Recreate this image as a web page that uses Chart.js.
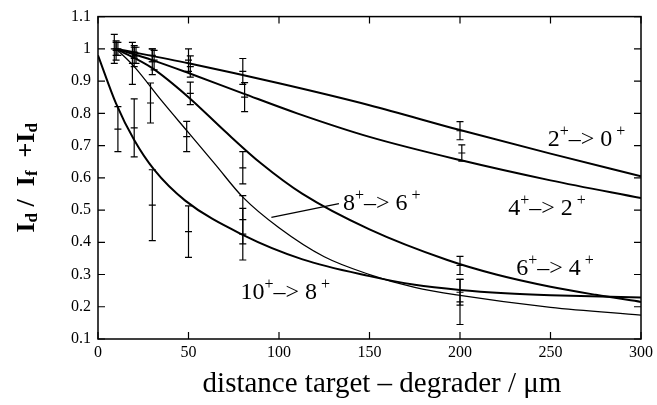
<!DOCTYPE html>
<html><head><meta charset="utf-8">
<script src="https://cdn.jsdelivr.net/npm/chart.js@4.4.0/dist/chart.umd.min.js"></script>
<style>html,body{margin:0;padding:0;background:#fff}#wrap{width:657px;height:405px}</style>
</head><body><div id="wrap"><canvas id="c" width="657" height="405"></canvas></div>
<script>
// ---- tick labels ----
const xTicks = [0, 50, 100, 150, 200, 250, 300];
const yTicks = [0.1, 0.2, 0.3, 0.4, 0.5, 0.6, 0.7, 0.8, 0.9, 1.0, 1.1];
const yTickLabels = ['0.1','0.2','0.3','0.4','0.5','0.6','0.7','0.8','0.9','1','1.1'];

// ---- fitted curves ----
const c20x = [10, 50, 100, 150, 200, 250, 300];
const c20y = [1.0, 0.955, 0.893, 0.825, 0.748, 0.675, 0.605];
const c42x = [10, 30, 50, 80, 110, 150, 200, 250, 300];
const c42y = [1.0, 0.965, 0.925, 0.862, 0.80, 0.727, 0.655, 0.592, 0.537];
const c64x = [10, 30, 50, 70, 90, 113, 150, 193, 220, 250, 275, 300];
const c64y = [1.0, 0.94, 0.85, 0.745, 0.645, 0.55, 0.44, 0.345, 0.30, 0.262, 0.237, 0.215];
const c86x = [10, 20, 35, 50, 65, 80, 100, 125, 150, 175, 200, 250, 300];
const c86y = [1.0, 0.945, 0.84, 0.74, 0.64, 0.54, 0.445, 0.355, 0.30, 0.26, 0.235, 0.198, 0.174];
const c108x = [0, 10, 20, 31, 48, 80, 113, 150, 175, 200, 225, 250, 300];
const c108y = [0.98, 0.83, 0.717, 0.625, 0.53, 0.423, 0.347, 0.295, 0.268, 0.252, 0.242, 0.236, 0.229];

// ---- measured points with errors ----
const p20x = [10, 20, 30, 50, 80, 200];
const p20y = [1.0, 0.99, 0.98, 0.965, 0.93, 0.746];
const p20e = [0.02, 0.02, 0.02, 0.035, 0.04, 0.028];
const p42x = [11, 21, 31, 51, 81, 201];
const p42y = [1.0, 0.98, 0.965, 0.945, 0.85, 0.677];
const p42e = [0.02, 0.025, 0.03, 0.033, 0.045, 0.025];
const p64x = [10, 20, 30, 51, 80, 200];
const p64y = [0.995, 0.975, 0.96, 0.862, 0.631, 0.328];
const p64e = [0.03, 0.03, 0.04, 0.035, 0.05, 0.028];
const p86x = [9, 19, 29, 49, 80, 200];
const p86y = [1.0, 0.955, 0.832, 0.728, 0.47, 0.245];
const p86e = [0.045, 0.065, 0.062, 0.047, 0.075, 0.04];
const p108x = [11, 20, 30, 50, 80, 200];
const p108y = [0.751, 0.755, 0.515, 0.433, 0.425, 0.215];
const p108e = [0.07, 0.09, 0.11, 0.08, 0.08, 0.07];

// ---- in-plot labels ----
const transLabels = [
  {x: 248.5, y: 0.698, a: '2', b: '0'},
  {x: 226.6, y: 0.486, a: '4', b: '2'},
  {x: 231.1, y: 0.299, a: '6', b: '4'},
  {x: 135.3, y: 0.499, a: '8', b: '6'},
  {x: 78.7,  y: 0.225, a: '10', b: '8'}
];
const leader = {x1: 95.8, y1: 0.477, x2: 133.1, y2: 0.52};
const xTitle = 'distance target \u2013 degrader / \u03bcm';

const SERIF = '"Liberation Serif", "Times New Roman", "DejaVu Serif", serif';

function pts(xs, ys) { return xs.map((v, i) => ({x: v, y: ys[i]})); }
function errPts(xs, ys, es) { return xs.map((v, i) => ({x: v, y: ys[i], lo: ys[i] - es[i], hi: ys[i] + es[i]})); }

function curve(label, xs, ys, w) {
  return {type: 'scatter', label, data: pts(xs, ys), showLine: true, borderColor: '#000',
    borderWidth: w, pointRadius: 0, cubicInterpolationMode: 'monotone', fill: false, order: 1};
}
function errSet(label, xs, ys, es) {
  return {type: 'scatter', label, data: errPts(xs, ys, es), showLine: false, isErr: true,
    pointStyle: 'line', pointRadius: 3.5, borderColor: '#000', borderWidth: 1.2,
    backgroundColor: '#000', order: 0};
}

const errorBars = {
  id: 'errorBars',
  afterDatasetsDraw(chart) {
    const ctx = chart.ctx, xs = chart.scales.x, ys = chart.scales.y;
    ctx.save();
    ctx.strokeStyle = '#000'; ctx.lineWidth = 1.2;
    chart.data.datasets.forEach(ds => {
      if (!ds.isErr) return;
      ds.data.forEach(p => {
        const px = xs.getPixelForValue(p.x);
        const t = ys.getPixelForValue(p.hi), b = ys.getPixelForValue(p.lo);
        ctx.beginPath();
        ctx.moveTo(px, t); ctx.lineTo(px, b);
        ctx.moveTo(px - 3.5, t); ctx.lineTo(px + 3.5, t);
        ctx.moveTo(px - 3.5, b); ctx.lineTo(px + 3.5, b);
        ctx.stroke();
      });
    });
    ctx.restore();
  }
};

const frame = {
  id: 'frame',
  afterDraw(chart) {
    const ctx = chart.ctx, a = chart.chartArea, xs = chart.scales.x, ys = chart.scales.y;
    ctx.save();
    ctx.strokeStyle = '#000'; ctx.lineWidth = 1.5;
    ctx.strokeRect(a.left, a.top, a.right - a.left, a.bottom - a.top);
    ctx.lineWidth = 1.2;
    ctx.beginPath();
    const L = 7;
    xTicks.forEach(v => {
      const px = xs.getPixelForValue(v);
      ctx.moveTo(px, a.bottom); ctx.lineTo(px, a.bottom - L);
      ctx.moveTo(px, a.top); ctx.lineTo(px, a.top + L);
    });
    yTicks.forEach(v => {
      const py = ys.getPixelForValue(v);
      ctx.moveTo(a.left, py); ctx.lineTo(a.left + L, py);
      ctx.moveTo(a.right, py); ctx.lineTo(a.right - L, py);
    });
    ctx.stroke();

    // leader line for 8+ -> 6+
    ctx.lineWidth = 1.2;
    ctx.beginPath();
    ctx.moveTo(xs.getPixelForValue(leader.x1), ys.getPixelForValue(leader.y1));
    ctx.lineTo(xs.getPixelForValue(leader.x2), ys.getPixelForValue(leader.y2));
    ctx.stroke();

    // transition labels
    ctx.fillStyle = '#000';
    ctx.textBaseline = 'alphabetic'; ctx.textAlign = 'left';
    const big = '24px ' + SERIF, sm = '16px ' + SERIF;
    transLabels.forEach(l => {
      let px = xs.getPixelForValue(l.x);
      const py = ys.getPixelForValue(l.y);
      const parts = [[l.a, big, 0], ['+', sm, -10], ['\u2013> ' + l.b, big, 0], [' +', sm, -10]];
      parts.forEach(([t, f, dy]) => {
        ctx.font = f; ctx.fillText(t, px, py + dy); px += ctx.measureText(t).width;
      });
    });

    // x axis title
    ctx.font = '29px ' + SERIF;
    ctx.textAlign = 'center';
    ctx.fillText(xTitle, 382, 392);
    ctx.textAlign = 'left';

    // y axis title with subscripts, rotated
    ctx.save();
    ctx.translate(27, a.top + (a.bottom - a.top) / 2);
    ctx.rotate(-Math.PI / 2);
    const tb = 'bold 26px ' + SERIF, ts = 'bold 17px ' + SERIF;
    const yparts = [['I', tb, 0], ['d', ts, 6], [' /  ', tb, 0], ['I', tb, 0], ['f', ts, 6], ['  +', tb, 0], ['I', tb, 0], ['d', ts, 6]];
    let w = 0;
    yparts.forEach(([t, f]) => { ctx.font = f; w += ctx.measureText(t).width; });
    let x = -w / 2;
    ctx.textBaseline = 'middle';
    yparts.forEach(([t, f, dy]) => { ctx.font = f; ctx.fillText(t, x, dy); x += ctx.measureText(t).width; });
    ctx.restore();
    ctx.restore();
  }
};

new Chart(document.getElementById('c'), {
  type: 'scatter',
  data: {
    datasets: [
      curve('2+->0+', c20x, c20y, 2),
      curve('4+->2+', c42x, c42y, 2),
      curve('6+->4+', c64x, c64y, 2),
      curve('8+->6+', c86x, c86y, 1.3),
      curve('10+->8+', c108x, c108y, 2),
      errSet('2+->0+ data', p20x, p20y, p20e),
      errSet('4+->2+ data', p42x, p42y, p42e),
      errSet('6+->4+ data', p64x, p64y, p64e),
      errSet('8+->6+ data', p86x, p86y, p86e),
      errSet('10+->8+ data', p108x, p108y, p108e)
    ]
  },
  options: {
    responsive: false,
    animation: false,
    devicePixelRatio: 1,
    layout: {padding: {left: 0, top: 11, right: 11, bottom: 0}},
    plugins: {legend: {display: false}, tooltip: {enabled: false}},
    scales: {
      x: {
        type: 'linear', min: 0, max: 300,
        afterBuildTicks: s => { s.ticks = xTicks.map(v => ({value: v})); },
        afterFit: s => { s.height = 66; },
        grid: {display: false, drawTicks: false},
        border: {display: false},
        ticks: {color: '#000', font: {family: SERIF, size: 16}, padding: 4, maxRotation: 0, autoSkip: false},
        title: {display: false, text: xTitle}
      },
      y: {
        type: 'linear', min: 0.1, max: 1.1,
        afterBuildTicks: s => { s.ticks = yTicks.map(v => ({value: v})); },
        afterFit: s => { s.width = 98; },
        grid: {display: false, drawTicks: false},
        border: {display: false},
        ticks: {color: '#000', font: {family: SERIF, size: 16}, padding: 7, autoSkip: false,
          callback: (v, i) => yTickLabels[i]}
      }
    }
  },
  plugins: [errorBars, frame]
});
</script>
</body></html>
